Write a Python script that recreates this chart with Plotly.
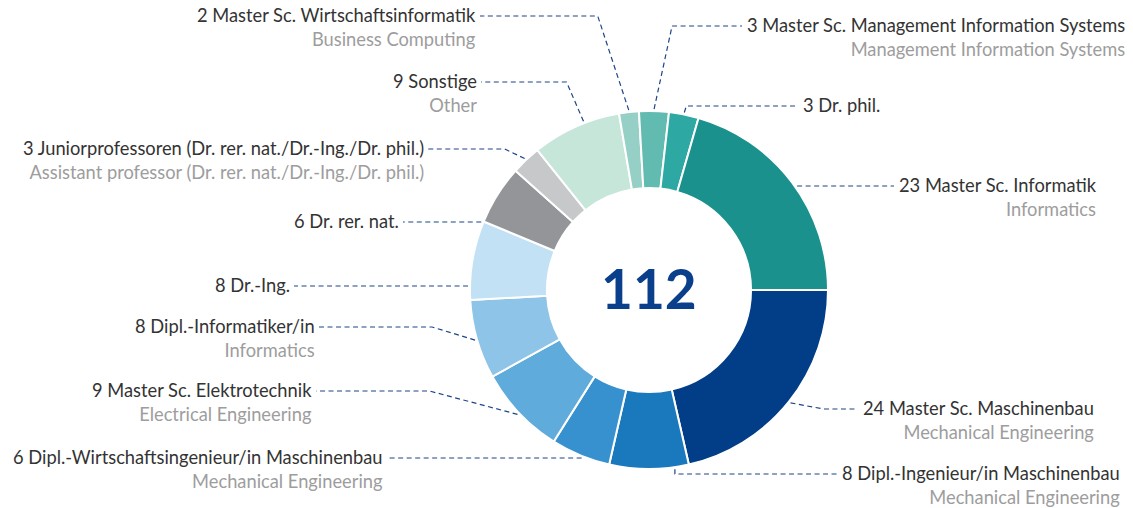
import math
import plotly.graph_objects as go

# ---- data ----
categories = [
    "Master Sc. Maschinenbau",
    "Dipl.-Ingenieur/in Maschinenbau",
    "Dipl.-Wirtschaftsingenieur/in Maschinenbau",
    "Master Sc. Elektrotechnik",
    "Dipl.-Informatiker/in",
    "Dr.-Ing.",
    "Dr. rer. nat.",
    "Juniorprofessoren (Dr. rer. nat./Dr.-Ing./Dr. phil.)",
    "Sonstige",
    "Master Sc. Wirtschaftsinformatik",
    "Master Sc. Management Information Systems",
    "Dr. phil.",
    "Master Sc. Informatik",
]
subtitles = [
    "Mechanical Engineering",
    "Mechanical Engineering",
    "Mechanical Engineering",
    "Electrical Engineering",
    "Informatics",
    "",
    "",
    "Assistant professor (Dr. rer. nat./Dr.-Ing./Dr. phil.)",
    "Other",
    "Business Computing",
    "Management Information Systems",
    "",
    "Informatics",
]
values = [24, 8, 6, 9, 8, 8, 6, 3, 9, 2, 3, 3, 23]

# ---- styles ----
colors = [
    "#023e87", "#1a78bc", "#3891cf", "#5fabdc", "#8dc4e7", "#c2e1f5",
    "#939598", "#c7c8ca", "#c7e6da", "#95cfc5", "#62bbb1", "#2ea8a3", "#1a918d",
]

# label layout (pixels): text edge x, text centre y, anchor fraction in slice, elbow dx
label_x = [863, 842, 383, 312, 315, 290, 399, 424, 477, 476, 747, 803, 899]
label_y = [409, 474, 458, 391, 327, 286, 222, 149, 82, 16, 26, 106, 186]
anchor_frac = [0.5, 0.18, None, 0.5, 0.5, None, None, 0.5, 0.6, 0.5, 0.5, 0.5, None]
elbow_dx = [33, 0, None, -88, -43, None, None, -20, -17, -31, 18, 2, None]

W, H = 1133, 508
CX, CY, R = 649, 290, 179
RA = R + 2
FONT = "Lato"
FS = 18.3
MAIN_COLOR = "#333333"
SUB_COLOR = "#9d9d9d"
LINE_COLOR = "#1c4587"


def px(x):
    return x / W


def py(y):
    return 1 - y / H


total = sum(values)

fig = go.Figure()
fig.add_trace(go.Pie(
    labels=categories,
    values=values,
    sort=False,
    direction="clockwise",
    rotation=90,
    hole=0.57,
    marker=dict(colors=colors, line=dict(color="white", width=2)),
    textinfo="none",
    hoverinfo="skip",
    showlegend=False,
    domain=dict(x=[px(CX - R), px(CX + R)], y=[py(CY + R), py(CY - R)]),
))

shapes = []
annotations = []
cum = 0
for i, v in enumerate(values):
    a0 = 90 + 360 * cum / total
    a1 = 90 + 360 * (cum + v) / total
    cum += v
    tx, ty = label_x[i], label_y[i]
    side = 1 if tx > CX else -1
    line_end_x = tx - 5 if side > 0 else tx + 4
    if anchor_frac[i] is None:
        dy = ty - CY
        ax = CX + side * math.sqrt(max(RA ** 2 - dy ** 2, 0))
        pts = [(ax, ty), (line_end_x, ty)]
    else:
        ang = math.radians(a0 + anchor_frac[i] * (a1 - a0))
        ax = CX + RA * math.sin(ang)
        ay = CY - RA * math.cos(ang)
        ex = ax + elbow_dx[i]
        pts = [(ax, ay), (ex, ty), (line_end_x, ty)]
    path = "M " + " L ".join(f"{px(x):.5f},{py(y):.5f}" for x, y in pts)
    shapes.append(dict(type="path", xref="paper", yref="paper", path=path,
                       line=dict(color=LINE_COLOR, width=1.2, dash="5px,3.5px")))

    txt = f"{v} {categories[i]}"
    if subtitles[i]:
        txt += f"<br><span style='color:{SUB_COLOR}'>{subtitles[i]}</span>"
    annotations.append(dict(
        x=px(tx), y=py(ty - FS * 0.65 - 2), xref="paper", yref="paper",
        text=txt, showarrow=False, align="right",
        xanchor="left" if side > 0 else "right", yanchor="top",
        font=dict(family=FONT, size=FS, color=MAIN_COLOR),
        xshift=-2 if side > 0 else 2,
    ))

annotations.append(dict(
    x=px(CX), y=py(CY - 2), xref="paper", yref="paper",
    text=f"<b>{total}</b>", showarrow=False,
    font=dict(family=FONT, size=55, color="#0a3f8c"),
    xanchor="center", yanchor="middle",
))

fig.update_layout(
    width=W, height=H,
    margin=dict(l=0, r=0, t=0, b=0),
    paper_bgcolor="white", plot_bgcolor="white",
    shapes=shapes, annotations=annotations,
)
fig.write_html(
    "out.html",
    config={"displayModeBar": False, "staticPlot": True},
    post_script="document.body.style.margin='0';document.body.style.overflow='hidden';",
)
